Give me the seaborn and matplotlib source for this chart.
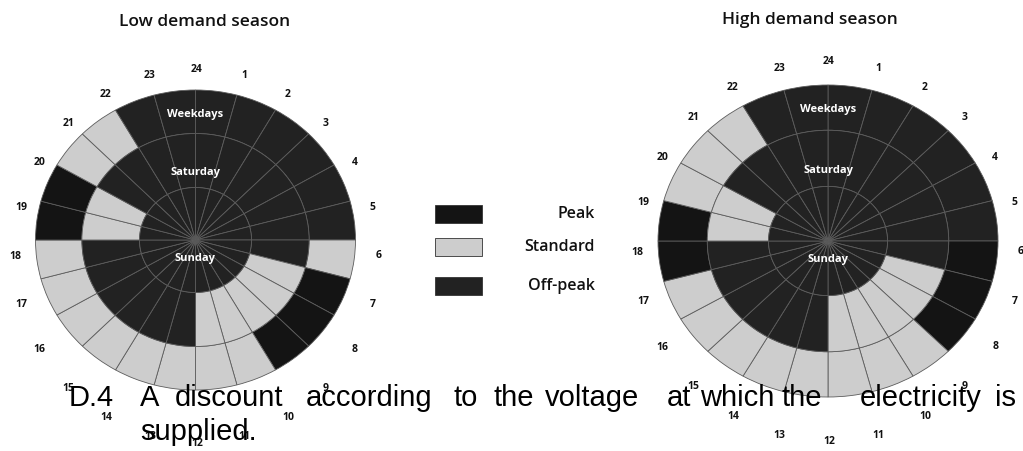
import math
import matplotlib
matplotlib.use('Agg')
import matplotlib.pyplot as plt
import seaborn as sns
from matplotlib.patches import Rectangle

# hour slots, label n sits at the end of hour n (24 at the top)
hours = list(range(1, 25))
categories = ['Peak', 'Standard', 'Off-peak']
codes = {'P': 'Peak', 'S': 'Standard', 'O': 'Off-peak'}

# tariff period for each hour, 00:00-01:00 first
low_weekdays = ['O', 'O', 'O', 'O', 'O', 'O', 'S', 'P', 'P', 'P', 'S', 'S',
                'S', 'S', 'S', 'S', 'S', 'S', 'P', 'P', 'S', 'S', 'O', 'O']
high_weekdays = ['O', 'O', 'O', 'O', 'O', 'O', 'P', 'P', 'P', 'S', 'S', 'S',
                 'S', 'S', 'S', 'S', 'S', 'P', 'P', 'S', 'S', 'S', 'O', 'O']
saturday = ['O', 'O', 'O', 'O', 'O', 'O', 'O', 'S', 'S', 'S', 'S', 'S',
            'O', 'O', 'O', 'O', 'O', 'O', 'S', 'S', 'O', 'O', 'O', 'O']
sunday = ['O', 'O', 'O', 'O', 'O', 'O', 'O', 'O', 'O', 'O', 'O', 'O',
          'O', 'O', 'O', 'O', 'O', 'O', 'O', 'O', 'O', 'O', 'O', 'O']
ring_names = ['Weekdays', 'Saturday', 'Sunday']

caption_words = ['D.4', 'A', 'discount', 'according', 'to', 'the', 'voltage',
                 'at', 'which', 'the', 'electricity', 'is']
caption_x = [69, 140, 175, 306, 453, 493, 545, 667, 700, 781, 860, 995]

sns.set_theme(style='white')
plt.rcParams['font.family'] = ['Open Sans', 'DejaVu Sans']

palette = dict(zip(categories, sns.color_palette(['#141414', '#cdcdcd', '#222222'])))
edge = '#5c5c5c'

W, H = 1023, 451
fig = plt.figure(figsize=(W / 100, H / 100), dpi=100)
fig.patch.set_facecolor('white')


def fx(x):
    return x / W


def fy(y):
    return 1 - y / H


def draw_clock(cx, cy, rx, ry, weekdays, title, title_xy, lab_c, lab_r):
    pad = 1.05
    ax = fig.add_axes([fx(cx - pad * rx), fy(cy + pad * ry),
                       2 * pad * rx / W, 2 * pad * ry / H])
    rings = [(weekdays, 1.0, 0.29), (saturday, 0.71, 0.36), (sunday, 0.35, 0.35)]
    for periods, radius, width in rings:
        ax.pie([1 for _ in hours], radius=radius,
               colors=[palette[codes[p]] for p in periods],
               startangle=90, counterclock=False,
               wedgeprops=dict(width=width, edgecolor=edge, linewidth=0.6))
    ax.set_aspect('auto')
    ax.set_xlim(-pad, pad)
    ax.set_ylim(-pad, pad)
    ax.axis('off')

    for name, yy in zip(ring_names, [0.84, 0.45, -0.12]):
        ax.text(0, yy, name, ha='center', va='center', color='white',
                fontsize=8, weight='bold')

    for h in hours:
        a = math.radians(15 * h)
        x = lab_c[0] + lab_r[0] * math.sin(a)
        y = lab_c[1] - lab_r[1] * math.cos(a)
        fig.text(fx(x), fy(y), str(h), ha='center', va='center',
                 fontsize=7.5, weight='bold', color='#111111')

    fig.text(fx(title_xy[0]), fy(title_xy[1]), title, ha='center', va='center',
             fontsize=12.5, weight='semibold', color='#111111')


draw_clock(195.5, 240, 160, 150, low_weekdays, 'Low demand season',
           (205, 22), (197, 256), (182, 187))
draw_clock(828, 241, 170, 156, high_weekdays, 'High demand season',
           (810, 20), (829, 252), (192, 190))

# legend
for cat, yc in zip(categories, [214, 247, 286]):
    fig.add_artist(Rectangle((fx(435), fy(yc + 9)), 47 / W, 18 / H,
                             transform=fig.transFigure, facecolor=palette[cat],
                             edgecolor='#333333', linewidth=0.6))
    fig.text(fx(595), fy(yc), cat, ha='right', va='center',
             fontsize=11.5, weight='semibold', color='#111111')

# scanned page text that runs over the charts
for word, x in zip(caption_words, caption_x):
    fig.text(fx(x), fy(406), word, ha='left', va='baseline',
             fontsize=21, family='Liberation Sans', color='black')
fig.text(fx(140), fy(440), 'supplied.', ha='left', va='baseline',
         fontsize=21, family='Liberation Sans', color='black')

fig.savefig('out.png', dpi=100, facecolor='white')
